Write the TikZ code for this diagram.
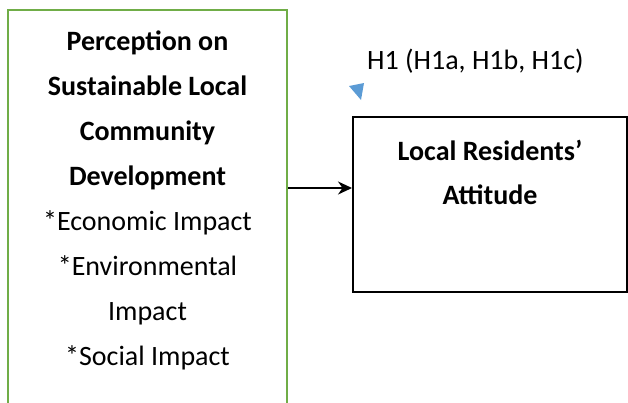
\documentclass[tikz,border=0pt]{standalone}
\usepackage{fontspec}
\setmainfont{Carlito}
\usepackage{tikz}
\usetikzlibrary{arrows.meta}
\definecolor{boxgreen}{HTML}{70AD47}
\definecolor{tipblue}{HTML}{5B9BD5}
\tikzset{
  txt/.style={anchor=base,inner sep=0pt,font=\fontsize{28}{32}\selectfont},
  headtxt/.style={txt,font=\fontsize{28}{32}\selectfont\bfseries},
}

\begin{document}
\begin{tikzpicture}[x=1pt,y=-1pt]
\useasboundingbox (0,0) rectangle (628,402);
\clip (0,0) rectangle (628,402);
% boxes
\node[draw=boxgreen,line width=2pt,minimum width=279pt,minimum height=400pt,inner sep=0pt] (percep) at (147.5,210) {};
\node[draw=black,line width=2pt,minimum width=274pt,minimum height=175pt,inner sep=0pt] (attit) at (490,204.5) {};
% left box text
\foreach \line [count=\i] in {Perception on,Sustainable Local,Community,Development}
  \node[headtxt] (ph\i) at (147.5,5+45*\i) {\line};
\foreach \line [count=\i] in {*Economic Impact,*Environmental,Impact,*Social Impact}
  \node[txt] (pl\i) at (147.5,185+45*\i) {\line};
% right box text
\node[headtxt] (ar1) at (490,160) {Local Residents’};
\node[headtxt] (ar2) at (490,204) {Attitude};
% hypothesis label
\node[txt,anchor=base west] (hyp) at (367,69) {H1 (H1a, H1b, H1c)};
\fill[tipblue] (349,86) -- (364,83) -- (361,100) -- cycle;
% link
\draw[-{Stealth[length=14pt,width=13pt]},line width=2pt] (percep.east |- 0,188) -- (attit.west |- 0,188);
\end{tikzpicture}
\end{document}
